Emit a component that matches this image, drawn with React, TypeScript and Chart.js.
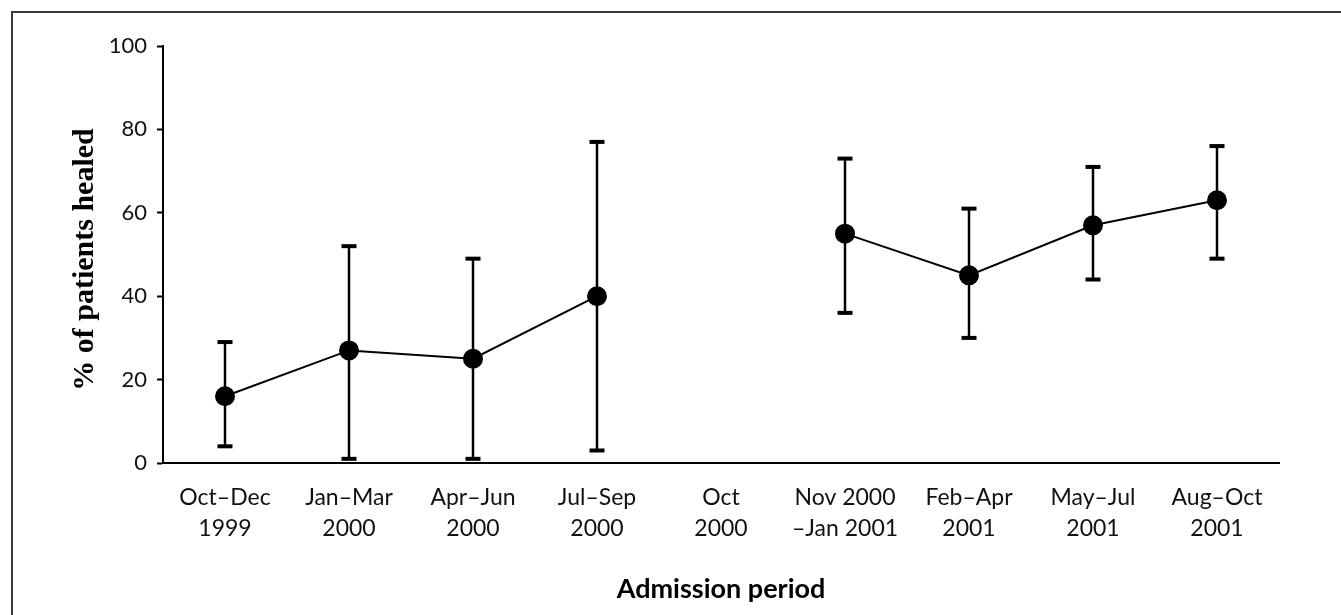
import React, { useEffect, useRef } from "react";
import { Chart, registerables } from "chart.js";

Chart.register(...registerables);

const periodLabels: string[][] = [
  ["Oct–Dec", "1999"],
  ["Jan–Mar", "2000"],
  ["Apr–Jun", "2000"],
  ["Jul–Sep", "2000"],
  ["Oct", "2000"],
  ["Nov 2000", "–Jan 2001"],
  ["Feb–Apr", "2001"],
  ["May–Jul", "2001"],
  ["Aug–Oct", "2001"],
];
const healedPct: (number | null)[] = [16, 27, 25, 40, null, 55, 45, 57, 63];
const lowerCI: (number | null)[] = [4, 1, 1, 3, null, 36, 30, 44, 49];
const upperCI: (number | null)[] = [29, 52, 49, 77, null, 73, 61, 71, 76];
const yTicks: number[] = [0, 20, 40, 60, 80, 100];

const xTitle = "Admission period";
const yTitle = "% of patients healed";

const TICK_FONT = "Lato";

const errorBarPlugin = {
  id: "errorBars",
  beforeDatasetsDraw(chart: any) {
    const { ctx } = chart;
    const xs = chart.scales.x;
    const ys = chart.scales.y;
    ctx.save();
    ctx.strokeStyle = "#000";
    ctx.fillStyle = "#000";
    ctx.lineWidth = 2.5;
    for (let i = 0; i < healedPct.length; i++) {
      const lo = lowerCI[i];
      const hi = upperCI[i];
      if (lo == null || hi == null) continue;
      const x = xs.getPixelForValue(i);
      const yl = ys.getPixelForValue(lo);
      const yh = ys.getPixelForValue(hi);
      ctx.beginPath();
      ctx.moveTo(x, yl);
      ctx.lineTo(x, yh);
      ctx.stroke();
      const capW = 15;
      const capH = 4;
      ctx.fillRect(x - capW / 2, yl - capH / 2, capW, capH);
      ctx.fillRect(x - capW / 2, yh - capH / 2, capW, capH);
    }
    ctx.restore();
  },
};

const titlesPlugin = {
  id: "axisTitles",
  afterDraw(chart: any) {
    const { ctx, chartArea } = chart;
    ctx.save();
    ctx.fillStyle = "#000";
    ctx.textAlign = "center";
    ctx.textBaseline = "middle";
    ctx.font = `bold 27px ${TICK_FONT}`;
    ctx.fillText(xTitle, (chartArea.left + chartArea.right) / 2, 589);
    ctx.translate(85, (chartArea.top + chartArea.bottom) / 2 + 5);
    ctx.rotate(-Math.PI / 2);
    ctx.font = "bold 30px 'Liberation Serif'";
    ctx.fillText(yTitle, 0, 0);
    ctx.restore();
  },
};

export default function App() {
  const canvasRef = useRef<HTMLCanvasElement | null>(null);

  useEffect(() => {
    if (!canvasRef.current) return;
    const chart = new Chart(canvasRef.current, {
      type: "line",
      data: {
        labels: periodLabels,
        datasets: [
          {
            label: "% healed",
            data: healedPct,
            borderColor: "#000",
            backgroundColor: "#000",
            borderWidth: 2,
            pointRadius: 9,
            pointHoverRadius: 9,
            pointBackgroundColor: "#000",
            pointBorderColor: "#000",
            spanGaps: false,
            tension: 0,
          },
        ],
      },
      options: {
        animation: false,
        responsive: false,
        events: [],
        layout: { padding: { left: 0, top: 46, right: 62, bottom: 0 } },
        plugins: {
          legend: { display: false },
          tooltip: { enabled: false },
          title: { display: false },
        },
        scales: {
          x: {
            type: "category",
            offset: true,
            grid: { display: true, drawOnChartArea: false, drawTicks: false },
            border: { display: true, color: "#000", width: 2 },
            ticks: {
              autoSkip: false,
              maxRotation: 0,
              minRotation: 0,
              padding: 19,
              color: "#111",
              font: { family: TICK_FONT, size: 23, lineHeight: 1.35 },
            },
            afterFit(scale: any) {
              scale.height = 152;
            },
          },
          y: {
            min: 0,
            max: 100,
            afterBuildTicks(scale: any) {
              scale.ticks = yTicks.map((v) => ({ value: v }));
            },
            grid: {
              drawOnChartArea: false,
              drawTicks: true,
              tickLength: 6,
              tickWidth: 2,
              tickColor: "#000",
            },
            border: { display: true, color: "#000", width: 2 },
            ticks: {
              padding: 10,
              color: "#111",
              font: { family: TICK_FONT, size: 22 },
            },
            afterFit(scale: any) {
              scale.width = 163;
            },
          },
        },
      },
      plugins: [errorBarPlugin, titlesPlugin],
    });
    return () => chart.destroy();
  }, []);

  return (
    <div style={{ position: "absolute", left: 0, top: 0, width: 1341, height: 615, background: "#fff" }}>
      <div
        style={{
          position: "absolute",
          left: 11,
          top: 11,
          width: 1330,
          height: 604,
          borderTop: "2px solid #3a3a3a",
          borderLeft: "2px solid #3a3a3a",
          boxSizing: "border-box",
        }}
      />
      <canvas
        ref={canvasRef}
        width={1341}
        height={615}
        style={{ position: "absolute", left: 0, top: 0, width: 1341, height: 615 }}
      />
    </div>
  );
}
